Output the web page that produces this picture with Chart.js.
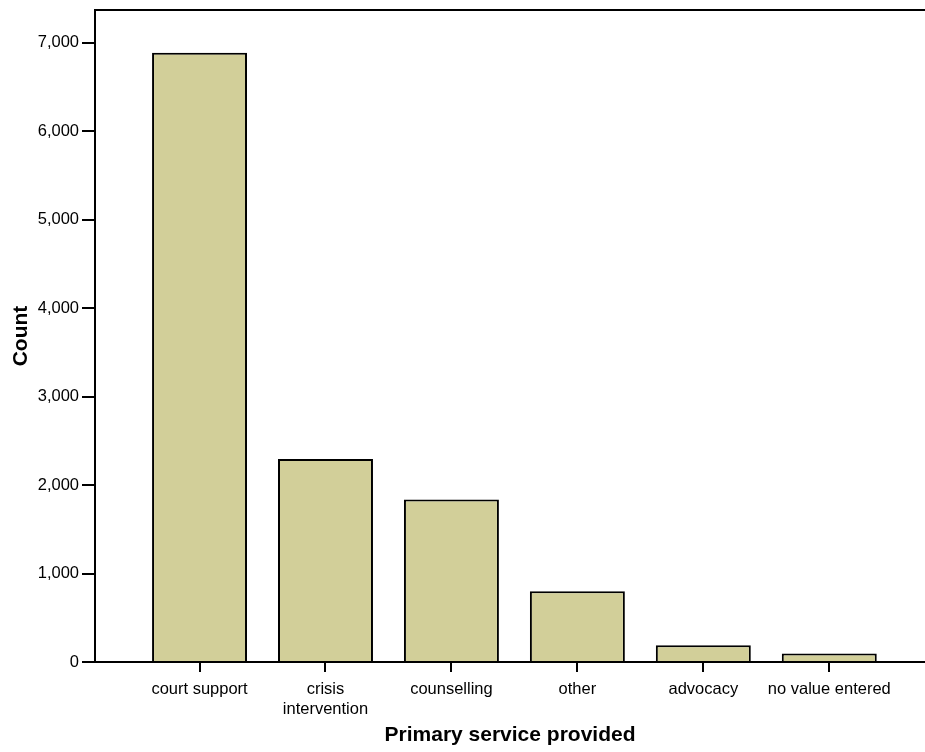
<!DOCTYPE html>
<html>
<head>
<meta charset="utf-8">
<script src="https://cdn.jsdelivr.net/npm/chart.js@4/dist/chart.umd.min.js"></script>
<style>
  html, body { margin: 0; padding: 0; background: #fff; }
  #wrap { width: 925px; height: 752px; }
</style>
</head>
<body>
<div id="wrap"><canvas id="barChart"></canvas></div>
<script>
const categories = ["court support", ["crisis", "intervention"], "counselling", "other", "advocacy", "no value entered"];
const counts = [6890, 2295, 1837, 800, 190, 95];
const yTicks = [0, 1000, 2000, 3000, 4000, 5000, 6000, 7000];

/* ===== TOP FRAME LINE ===== */
const topLine = {
  id: "topLine",
  afterDraw(chart) {
    const a = chart.chartArea, ctx = chart.ctx;
    ctx.save();
    ctx.strokeStyle = "#000";
    ctx.lineWidth = 2;
    ctx.beginPath();
    ctx.moveTo(a.left - 1, a.top);
    ctx.lineTo(a.right, a.top);
    ctx.stroke();
    ctx.restore();
  }
};

const font = "'Liberation Sans', Arial, Helvetica, sans-serif";

new Chart(document.getElementById("barChart"), {
  type: "bar",
  data: {
    datasets: [{
      data: counts.map((v, i) => ({ x: i, y: v })),
      backgroundColor: "#d2cf99",
      borderColor: "#000",
      borderWidth: 2,
      barPercentage: 0.754,
      categoryPercentage: 1
    }]
  },
  options: {
    responsive: true,
    maintainAspectRatio: false,
    animation: false,
    layout: { padding: { top: 10, right: 0, left: 0, bottom: 0 } },
    plugins: { legend: { display: false }, tooltip: { enabled: false } },
    scales: {
      x: {
        type: "linear",
        min: -0.83,
        max: 5.76,
        offset: false,
        afterBuildTicks: s => { s.ticks = categories.map((c, i) => ({ value: i })); },
        afterFit: s => { s.height = 90; },
        ticks: {
          callback: v => categories[v],
          color: "#000",
          font: { family: font, size: 16.5 },
          padding: 8,
          maxRotation: 0,
          autoSkip: false
        },
        grid: { offset: false, drawOnChartArea: false, drawTicks: true, tickLength: 10, color: "#000", lineWidth: 2 },
        border: { color: "#000", width: 2 },
        title: {
          display: true,
          text: "Primary service provided",
          color: "#000",
          font: { family: font, size: 21, weight: "bold" },
          padding: { top: 4, bottom: 4 }
        }
      },
      y: {
        min: 0,
        max: 7372,
        afterBuildTicks: s => { s.ticks = yTicks.map(v => ({ value: v })); },
        afterFit: s => { s.width = 95; s.paddingTop = 0; s.paddingBottom = 0; },
        ticks: {
          callback: v => v.toLocaleString("en-US"),
          color: "#000",
          font: { family: font, size: 16.5 },
          padding: 3
        },
        grid: { drawOnChartArea: false, drawTicks: true, tickLength: 13, color: "#000", lineWidth: 2 },
        border: { color: "#000", width: 2 },
        title: {
          display: true,
          text: "Count",
          color: "#000",
          font: { family: font, size: 21, weight: "bold" },
          padding: { top: 9, bottom: 0 }
        }
      }
    }
  },
  plugins: [topLine]
});
</script>
</body>
</html>
